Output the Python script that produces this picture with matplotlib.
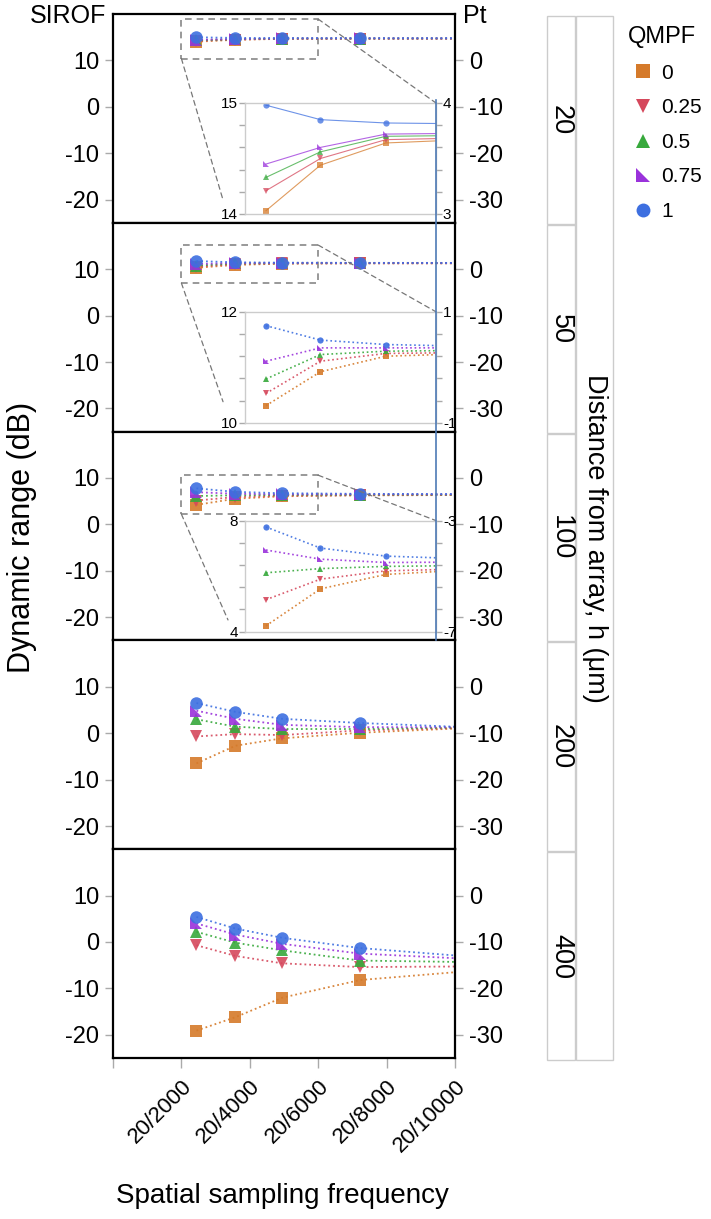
import matplotlib
matplotlib.use('Agg')
import numpy as np
import matplotlib.pyplot as plt
from matplotlib.patches import Rectangle, ConnectionPatch
from matplotlib.lines import Line2D

plt.rcParams['font.family'] = ['Liberation Sans', 'DejaVu Sans']
plt.rcParams['axes.unicode_minus'] = False

# ---------------- data ----------------
qmpf_labels = ['0', '0.25', '0.5', '0.75', '1']
distances = ['20', '50', '100', '200', '400']
x_positions = [2440, 3580, 4950, 7220, 12000]
x_ticks = [0, 2000, 4000, 6000, 8000, 10000]
x_ticklabels = ['', '20/2000', '20/4000', '20/6000', '20/8000', '20/10000']

h20 = [
    [14.03, 14.44, 14.64, 14.68, 14.70],
    [14.21, 14.50, 14.67, 14.69, 14.70],
    [14.33, 14.56, 14.70, 14.71, 14.72],
    [14.45, 14.60, 14.72, 14.73, 14.73],
    [14.98, 14.85, 14.82, 14.81, 14.80],
]
h50 = [
    [10.31, 10.92, 11.20, 11.26, 11.28],
    [10.53, 11.11, 11.25, 11.27, 11.28],
    [10.79, 11.23, 11.29, 11.31, 11.31],
    [11.11, 11.35, 11.35, 11.35, 11.34],
    [11.75, 11.49, 11.41, 11.37, 11.35],
]
h100 = [
    [4.21, 5.54, 6.06, 6.28, 6.35],
    [5.15, 5.89, 6.19, 6.28, 6.35],
    [6.12, 6.27, 6.35, 6.39, 6.42],
    [6.94, 6.61, 6.49, 6.51, 6.48],
    [7.77, 7.01, 6.72, 6.59, 6.50],
]
h200 = [
    [-6.5, -2.7, -1.1, 0.1, 1.65],
    [-0.7, -0.2, -0.4, 0.6, 1.46],
    [3.0, 1.4, 0.9, 0.9, 1.42],
    [4.85, 3.1, 1.8, 1.3, 1.3],
    [6.5, 4.6, 3.1, 2.2, 0.82],
]
h400 = [
    [-19.1, -16.2, -12.0, -8.2, -5.3],
    [-0.7, -3.0, -4.6, -5.4, -5.2],
    [2.2, -0.15, -1.8, -4.0, -4.5],
    [4.0, 1.6, -0.4, -2.5, -4.2],
    [5.4, 2.9, 0.9, -1.3, -4.05],
]
panel_data = [h20, h50, h100, h200, h400]

inset_ylims = [(14, 15), (10, 12), (4, 8)]
zoom_boxes = [(10.4, 18.9), (7.0, 15.2), (2.2, 10.6)]
inset_conn_ends = [(-0.115, 0.126), (-0.115, 0.19), (-0.089, 0.105)]

# ---------------- style ----------------
colors = ['#D57A2A', '#D5485C', '#37A93C', '#9A32DB', '#3D6FE0']
markers = ['s', 'v', '^', [(-1, 1), (-1, -1), (1, -1)], 'o']
TICKC = '#AAAAAA'
TICKFS = 17

W, H = 711, 1219
fig = plt.figure(figsize=(W / 100, H / 100), dpi=100)


def fx(px):
    return px / W


def fy(py):
    return 1 - py / H


def axes_px(x0, y0, x1, y1):
    return fig.add_axes([x0 / W, 1 - y1 / H, (x1 - x0) / W, (y1 - y0) / H])


edges = np.linspace(14, 1058, 6)
for i in range(5):
    top, bot = edges[i], edges[i + 1]
    ax = axes_px(113, top, 455, bot)
    ax.set_xlim(0, 10000)
    ax.set_ylim(-25, 20)
    ax.set_yticks([10, 0, -10, -20])
    ax.tick_params(axis='y', color=TICKC, labelcolor='black', length=6,
                   width=1, labelsize=TICKFS, pad=4)
    for s in ax.spines.values():
        s.set_linewidth(1.6)
        s.set_color('black')
    sec = ax.secondary_yaxis('right', functions=(lambda y: y - 10, lambda y: y + 10))
    sec.set_yticks([0, -10, -20, -30])
    sec.tick_params(axis='y', color=TICKC, labelcolor='black', length=6,
                    width=1, labelsize=TICKFS, pad=4)
    sec.spines['right'].set_visible(False)
    ax.set_xticks(x_ticks)
    if i < 4:
        ax.tick_params(axis='x', length=0, labelbottom=False)
    else:
        ax.set_xticklabels(x_ticklabels, rotation=45, ha='right', va='top',
                           rotation_mode='anchor', fontsize=16)
        ax.tick_params(axis='x', color=TICKC, length=7, width=1, pad=6)
    for k in range(5):
        ax.plot(x_positions, panel_data[i][k], linestyle=':', lw=1.3,
                color=colors[k], marker=markers[k], ms=9, mew=0, alpha=0.9)

    if i < 3:
        ins = axes_px(245, top + 89, 436, top + 200)
        lo, hi = inset_ylims[i]
        ins.set_xlim(2000, 6000)
        ins.set_ylim(lo, hi)
        ins.set_xticks([])
        yt = np.linspace(lo, hi, 6)
        ins.set_yticks(yt)
        ins.set_yticklabels([f'{lo:g}'] + [''] * 4 + [f'{hi:g}'])
        ins.tick_params(axis='y', color=TICKC, length=4, width=1,
                        labelsize=11, pad=1)
        for s in ins.spines.values():
            s.set_color('#CCCCCC')
            s.set_linewidth(1)
        isec = ins.secondary_yaxis('right', functions=(lambda y: y - 11, lambda y: y + 11))
        isec.set_yticks(yt - 11)
        isec.set_yticklabels([f'{lo - 11:g}'] + [''] * 4 + [f'{hi - 11:g}'])
        isec.tick_params(axis='y', color=TICKC, length=4, width=1,
                         labelsize=11, pad=1)
        isec.spines['right'].set_visible(False)
        for k in range(5):
            if i == 0:
                ins.plot(x_positions, panel_data[i][k], linestyle='-', lw=0.8,
                         color=colors[k], marker=markers[k], ms=4.5, mew=0, alpha=0.75)
            else:
                ins.plot(x_positions, panel_data[i][k], linestyle=':', lw=1.2,
                         color=colors[k], marker=markers[k], ms=4.5, mew=0, alpha=0.9)
        blo, bhi = zoom_boxes[i]
        ax.add_patch(Rectangle((2000, blo), 4000, bhi - blo, fill=False,
                               ls=(0, (4, 3)), ec='#888888', lw=1.2, zorder=1))
        con1 = ConnectionPatch(xyA=(6000, bhi), coordsA=ax.transData,
                               xyB=(1, 1), coordsB=ins.transAxes,
                               ls=(0, (4, 3)), color='#777777', lw=0.9)
        fig.add_artist(con1)
        cx, cy = inset_conn_ends[i]
        con2 = ConnectionPatch(xyA=(2000, blo), coordsA=ax.transData,
                               xyB=(cx, cy), coordsB=ins.transAxes,
                               ls=(0, (4, 3)), color='#777777', lw=0.9)
        fig.add_artist(con2)

# blue vertical line across insets
fig.add_artist(Line2D([fx(436), fx(436)], [fy(100), fy(640)],
                      transform=fig.transFigure, color='#4E7AB5', lw=1.2))

# strips
strip_tops = [16, 225, 434, 642, 852]
strip_bots = [224, 433, 641, 851, 1060]
for t, b, lab in zip(strip_tops, strip_bots, distances):
    fig.add_artist(Rectangle((fx(547), fy(b)), (575 - 547) / W, (b - t) / H,
                             transform=fig.transFigure, fill=False,
                             ec='#CCCCCC', lw=1))
    fig.text(fx(561), fy((t + b) / 2), lab, rotation=-90, ha='center',
             va='center', fontsize=19.5)
fig.add_artist(Rectangle((fx(576), fy(1060)), (613 - 576) / W, (1060 - 16) / H,
                         transform=fig.transFigure, fill=False,
                         ec='#CCCCCC', lw=1))
fig.text(fx(595), fy(538), 'Distance from array, h (μm)', rotation=-90,
         ha='center', va='center', fontsize=19.5)

# legend
handles = [Line2D([], [], ls='none', marker=m, color=c, ms=10, mew=0)
           for m, c in zip(markers, colors)]
fig.legend(handles, qmpf_labels, title='QMPF', loc='upper left',
           bbox_to_anchor=(fx(628), fy(26)), frameon=False, fontsize=15,
           title_fontsize=17, handletextpad=0.2, labelspacing=0.75,
           alignment='left', borderaxespad=0, borderpad=0, handlelength=1.4)

fig.text(fx(106), fy(16), 'SIROF', ha='right', va='center', fontsize=18)
fig.text(fx(463), fy(16), 'Pt', ha='left', va='center', fontsize=18)
fig.text(fx(22), fy(537), 'Dynamic range (dB)', rotation=90, ha='center',
         va='center', fontsize=22)
fig.text(fx(282), fy(1196), 'Spatial sampling frequency', ha='center',
         va='center', fontsize=20)

fig.savefig('out.png', dpi=100)
